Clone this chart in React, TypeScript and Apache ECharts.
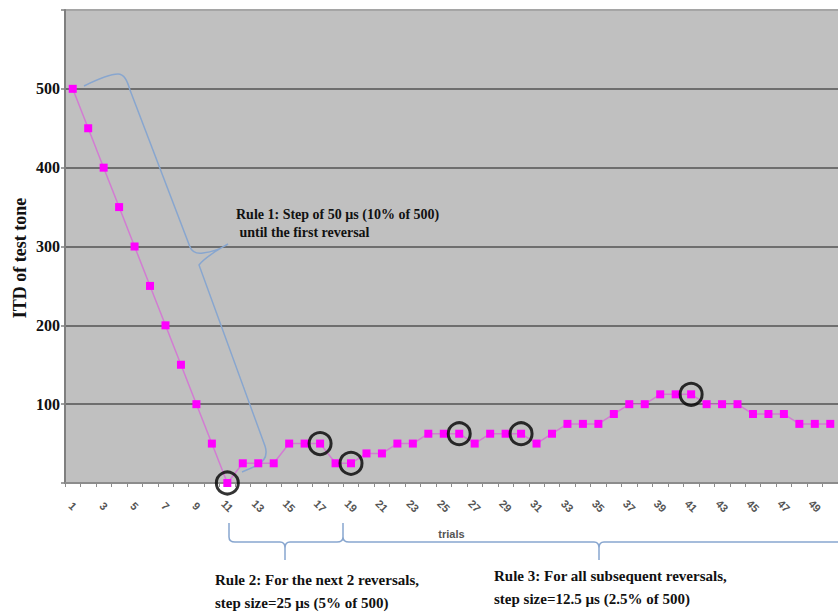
import React, { useEffect, useRef } from "react";
import * as echarts from "echarts";

const trials = [
  "1","2","3","4","5","6","7","8","9","10",
  "11","12","13","14","15","16","17","18","19","20",
  "21","22","23","24","25","26","27","28","29","30",
  "31","32","33","34","35","36","37","38","39","40",
  "41","42","43","44","45","46","47","48","49","50",
];

const itdValues = [
  500, 450, 400, 350, 300, 250, 200, 150, 100, 50,
  0, 25, 25, 25, 50, 50, 50, 25, 25, 37.5,
  37.5, 50, 50, 62.5, 62.5, 62.5, 50, 62.5, 62.5, 62.5,
  50, 62.5, 75, 75, 75, 87.5, 100, 100, 112.5, 112.5,
  112.5, 100, 100, 100, 87.5, 87.5, 87.5, 75, 75, 75,
];

const reversalTrials = ["11", "17", "19", "26", "30", "41"];
const reversalValues = [0, 50, 25, 62.5, 62.5, 112.5];

const yTicks = [0, 100, 200, 300, 400, 500, 600];

const rule1Lines = ["Rule 1: Step of 50 µs (10% of 500)", " until the first reversal"];
const rule2Lines = ["Rule 2: For the next 2 reversals,", "step size=25 µs (5% of 500)"];
const rule3Lines = ["Rule 3: For all subsequent reversals,", "step size=12.5 µs (2.5% of 500)"];

const braceD =
  "M84,86 C98,79 110,74 118,74 C124,74 127,80 130,90 L190,247 C192,252 196,254 203,253 C212,252 222,248 228,244 C218,250 206,256 199,265 L265,446 C268,455 264,462 256,466 L242,472 " +
  "M229,523 L229,537 Q229,542 235,542 L280,542 Q285,542 285,548 L285,560 M285,548 Q285,542 290,542 L337,542 Q343,542 343,537 L343,523 " +
  "M343,537 Q343,542 349,542 L594,542 Q599,542 599,548 L599,560 M599,548 Q599,542 604,542 L860,542";

let registered = false;
function ensureShape() {
  if (registered) return;
  echarts.graphic.registerShape("braces", echarts.graphic.extendPath(braceD, {}) as any);
  registered = true;
}

const serifBold = {
  fontFamily: "Liberation Serif",
  fontWeight: "bold" as const,
  fill: "#111",
};

export default function App() {
  const ref = useRef<HTMLDivElement>(null);
  useEffect(() => {
    if (!ref.current) return;
    ensureShape();
    const chart = echarts.init(ref.current, null, { renderer: "svg" });
    const lastTick = yTicks[yTicks.length - 1];
    chart.setOption({
      animation: false,
      backgroundColor: "#ffffff",
      grid: {
        left: 65,
        top: 10,
        width: 777.5,
        height: 473,
        show: true,
        backgroundColor: "#c0c0c0",
        borderWidth: 0,
      },
      xAxis: {
        type: "category",
        data: trials,
        boundaryGap: true,
        axisLine: { show: true, lineStyle: { color: "#8c8c8c", width: 2 } },
        axisTick: { show: true, interval: 0, length: 4, lineStyle: { color: "#8c8c8c", width: 1 } },
        axisLabel: {
          interval: 1,
          rotate: -45,
          align: "center",
          verticalAlign: "middle",
          margin: 23,
          color: "#555",
          fontFamily: "Liberation Sans",
          fontWeight: "bold",
          fontSize: 11,
        },
        splitLine: { show: false },
        name: "trials",
        nameLocation: "middle",
        nameGap: 45,
        nameTextStyle: {
          color: "#555",
          fontFamily: "Liberation Sans",
          fontWeight: "bold",
          fontSize: 11,
        },
      },
      yAxis: {
        type: "value",
        min: yTicks[0],
        max: lastTick,
        interval: 100,
        axisLine: { show: true, lineStyle: { color: "#7f7f7f", width: 2 } },
        axisTick: { show: true, length: 4, lineStyle: { color: "#7f7f7f", width: 1.5 } },
        splitLine: {
          show: true,
          lineStyle: {
            color: ["rgba(0,0,0,0)", "#6e6e6e", "#6e6e6e", "#6e6e6e", "#6e6e6e", "#6e6e6e", "#a5a5a5"],
            width: 2,
          },
        },
        axisLabel: {
          margin: 5,
          color: "#111",
          fontFamily: "Liberation Serif",
          fontWeight: "bold",
          fontSize: 16,
          formatter: (v: number) => (v === yTicks[0] || v === lastTick ? "" : String(v)),
        },
      },
      series: [
        {
          type: "line",
          data: itdValues,
          symbol: "rect",
          symbolSize: 8,
          clip: false,
          itemStyle: { color: "#ff00ff" },
          lineStyle: { color: "#d27cd2", width: 1.5 },
          z: 3,
        },
        {
          type: "scatter",
          data: reversalTrials.map((t, i) => [t, reversalValues[i]]),
          symbol: "circle",
          symbolSize: 22,
          clip: false,
          itemStyle: { color: "rgba(0,0,0,0)", borderColor: "#000", borderWidth: 3 },
          z: 4,
        },
      ],
      graphic: [
        {
          type: "braces",
          x: 0,
          y: 0,
          z: 2,
          style: { stroke: "#88a6cf", lineWidth: 1.5, fill: null },
        },
        {
          type: "text",
          x: 20,
          y: 258,
          rotation: Math.PI / 2,
          style: { ...serifBold, text: "ITD of test tone", fontSize: 18, align: "center", verticalAlign: "middle" },
        },
        {
          type: "text",
          x: 236,
          y: 214,
          z: 5,
          style: { ...serifBold, text: rule1Lines[0], fontSize: 14, align: "left", verticalAlign: "middle" },
        },
        {
          type: "text",
          x: 236,
          y: 232,
          z: 5,
          style: { ...serifBold, text: rule1Lines[1], fontSize: 14, align: "left", verticalAlign: "middle" },
        },
        {
          type: "text",
          x: 215,
          y: 580,
          style: { ...serifBold, text: rule2Lines[0], fontSize: 15, align: "left", verticalAlign: "middle" },
        },
        {
          type: "text",
          x: 215,
          y: 603,
          style: { ...serifBold, text: rule2Lines[1], fontSize: 15, align: "left", verticalAlign: "middle" },
        },
        {
          type: "text",
          x: 494,
          y: 576,
          style: { ...serifBold, text: rule3Lines[0], fontSize: 15, align: "left", verticalAlign: "middle" },
        },
        {
          type: "text",
          x: 494,
          y: 599,
          style: { ...serifBold, text: rule3Lines[1], fontSize: 15, align: "left", verticalAlign: "middle" },
        },
      ],
    });
    return () => chart.dispose();
  }, []);
  return (
    <div style={{ position: "fixed", left: 0, top: 0, width: 838, height: 612, overflow: "hidden", background: "#fff" }}>
      <div ref={ref} style={{ width: 838, height: 612 }} />
    </div>
  );
}
